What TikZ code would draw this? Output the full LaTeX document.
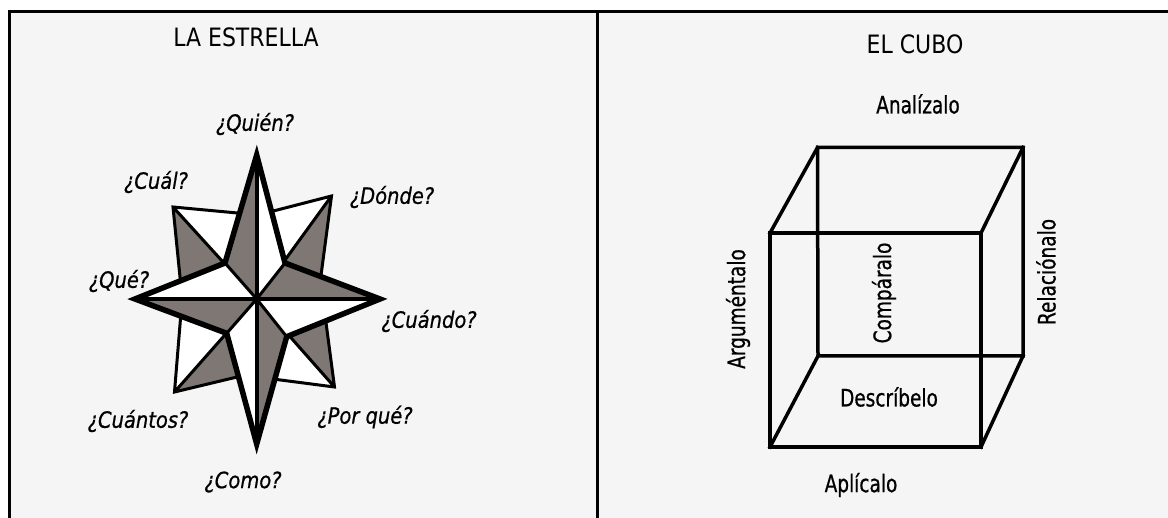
\documentclass[tikz,border=0pt]{standalone}
\usepackage{fontspec}
\setmainfont{DejaVu Sans}
\newfontfamily\handfont{DejaVu Sans}[FakeBold=0.8]
\newcommand\tallq[1]{\scalebox{1}[1.15]{#1}}
\newcommand\tallc[1]{\scalebox{1}[1.3]{#1}}
\definecolor{starg}{RGB}{126,119,115}
\definecolor{panelbg}{RGB}{245,245,245}
\begin{document}
\begin{tikzpicture}[x=1pt,y=-1pt,
  qlabel/.style={font=\handfont\fontsize{19.5}{24}\selectfont\itshape, inner sep=0pt},
  clabel/.style={font=\handfont\fontsize{18.5}{23}\selectfont, inner sep=0pt},
  tlabel/.style={font=\fontsize{22}{26}\selectfont, inner sep=0pt},
  panelline/.style={line width=3pt},
  outline/.style={line width=5.5pt, line join=miter, miter limit=20},
  ridge/.style={line width=4pt},
  thinedge/.style={line width=3pt, line join=miter, miter limit=20},
  cubeedge/.style={line width=3.5pt, line join=miter, line cap=rect}]
\useasboundingbox (0,0) rectangle (1168,518);
\fill[white] (0,0) rectangle (1168,518);
\fill[panelbg] (9,12) rectangle (1168,518);
\draw[panelline] (9,518) -- (9,12) -- (1168,12);
\draw[panelline] (597,12) -- (597,518);

% ---- star coordinates
\coordinate (C) at (256.7,299);
\coordinate (T) at (256.7,155);
\coordinate (B) at (256.7,444);
\coordinate (L) at (135,299);
\coordinate (R) at (380,299);
\coordinate (iUL) at (225,263);
\coordinate (iUR) at (285,263);
\coordinate (iLR) at (286.7,336.7);
\coordinate (iLL) at (226.7,333.3);
\coordinate (dUL) at (173,207);
\coordinate (hUL1) at (256.7,214.8);
\coordinate (hUL2) at (182.2,299);
\coordinate (dUR) at (331.5,196);
\coordinate (hUR1) at (256.7,215.3);
\coordinate (hUR2) at (317.9,299);
\coordinate (dLR) at (334.5,387);
\coordinate (hLR1) at (322.9,299);
\coordinate (hLR2) at (256.7,376.9);
\coordinate (dLL) at (174.5,392);
\coordinate (hLL1) at (182.1,299);
\coordinate (hLL2) at (256.7,372.3);

% ---- diagonal star (behind)
\fill[starg] (dUL) -- (C) -- (hUL2) -- cycle;
\fill[white] (dUL) -- (hUL1) -- (C) -- cycle;
\fill[starg] (dUR) -- (C) -- (hUR2) -- cycle;
\fill[white] (dUR) -- (hUR1) -- (C) -- cycle;
\fill[starg] (dLR) -- (hLR1) -- (C) -- cycle;
\fill[white] (dLR) -- (C) -- (hLR2) -- cycle;
\fill[starg] (dLL) -- (C) -- (hLL2) -- cycle;
\fill[white] (dLL) -- (hLL1) -- (C) -- cycle;
\draw[thinedge] (hUL1) -- (dUL) -- (hUL2) (dUL) -- (C);
\draw[thinedge] (hUR1) -- (dUR) -- (hUR2) (dUR) -- (C);
\draw[thinedge] (hLR1) -- (dLR) -- (hLR2) (dLR) -- (C);
\draw[thinedge] (hLL1) -- (dLL) -- (hLL2) (dLL) -- (C);

% ---- main star
\fill[starg] (C) -- (T) -- (iUL) -- cycle;
\fill[white] (C) -- (T) -- (iUR) -- cycle;
\fill[starg] (C) -- (R) -- (iUR) -- cycle;
\fill[white] (C) -- (R) -- (iLR) -- cycle;
\fill[starg] (C) -- (B) -- (iLR) -- cycle;
\fill[white] (C) -- (B) -- (iLL) -- cycle;
\fill[starg] (C) -- (L) -- (iLL) -- cycle;
\fill[white] (C) -- (L) -- (iUL) -- cycle;
\draw[thinedge] (iUL) -- (C) -- (iLR) (iUR) -- (C) -- (iLL);
\draw[ridge] (T) -- (B) (L) -- (R);
\draw[outline] (T) -- (iUR) -- (R) -- (iLR) -- (B) -- (iLL) -- (L) -- (iUL) -- cycle;

% ---- star labels
\node[tlabel] (titleA) at (246,37) {\tallq{LA ESTRELLA}};
\node[qlabel] (quien) at (255,124) {\tallq{¿Quién?}};
\node[qlabel] (cual) at (156,182) {\tallq{¿Cuál?}};
\node[qlabel] (donde) at (392,197) {\tallq{¿Dónde?}};
\node[qlabel] (que) at (119,281) {\tallq{¿Qué?}};
\node[qlabel] (cuando) at (429,321) {\tallq{¿Cuándo?}};
\node[qlabel] (cuantos) at (138,421) {\tallq{¿Cuántos?}};
\node[qlabel] (porque) at (365,417) {\tallq{¿Por qué?}};
\node[qlabel] (como) at (243,482) {\tallq{¿Como?}};

% ---- cube
\coordinate (fTL) at (770,233);
\coordinate (fTR) at (981,233);
\coordinate (fBR) at (981,447);
\coordinate (fBL) at (770,447);
\coordinate (bTL) at (817.5,147.5);
\coordinate (bTR) at (1023,147.5);
\coordinate (bBR) at (1023,356);
\coordinate (bBL) at (818,356);
\draw[cubeedge] (bTL) -- (bTR) -- (bBR) -- (bBL) -- cycle;
\draw[cubeedge] (fTL) -- (fTR) -- (fBR) -- (fBL) -- cycle;
\draw[cubeedge] (fTL) -- (bTL) (fTR) -- (bTR) (fBR) -- (bBR) (fBL) -- (bBL);

% ---- cube labels
\node[tlabel] (titleB) at (915,44) {\tallq{EL CUBO}};
\node[clabel] (analiza) at (918,104) {\tallc{Analízalo}};
\node[clabel, rotate=90] (argumenta) at (738,309) {\tallc{Arguméntalo}};
\node[clabel, rotate=90] (compara) at (884,293) {\tallc{Compáralo}};
\node[clabel, rotate=90] (relaciona) at (1046,272) {\tallc{Relaciónalo}};
\node[clabel] (describe) at (889,397) {\tallc{Descríbelo}};
\node[clabel] (aplica) at (861,485) {\tallc{Aplícalo}};
\end{tikzpicture}
\end{document}
